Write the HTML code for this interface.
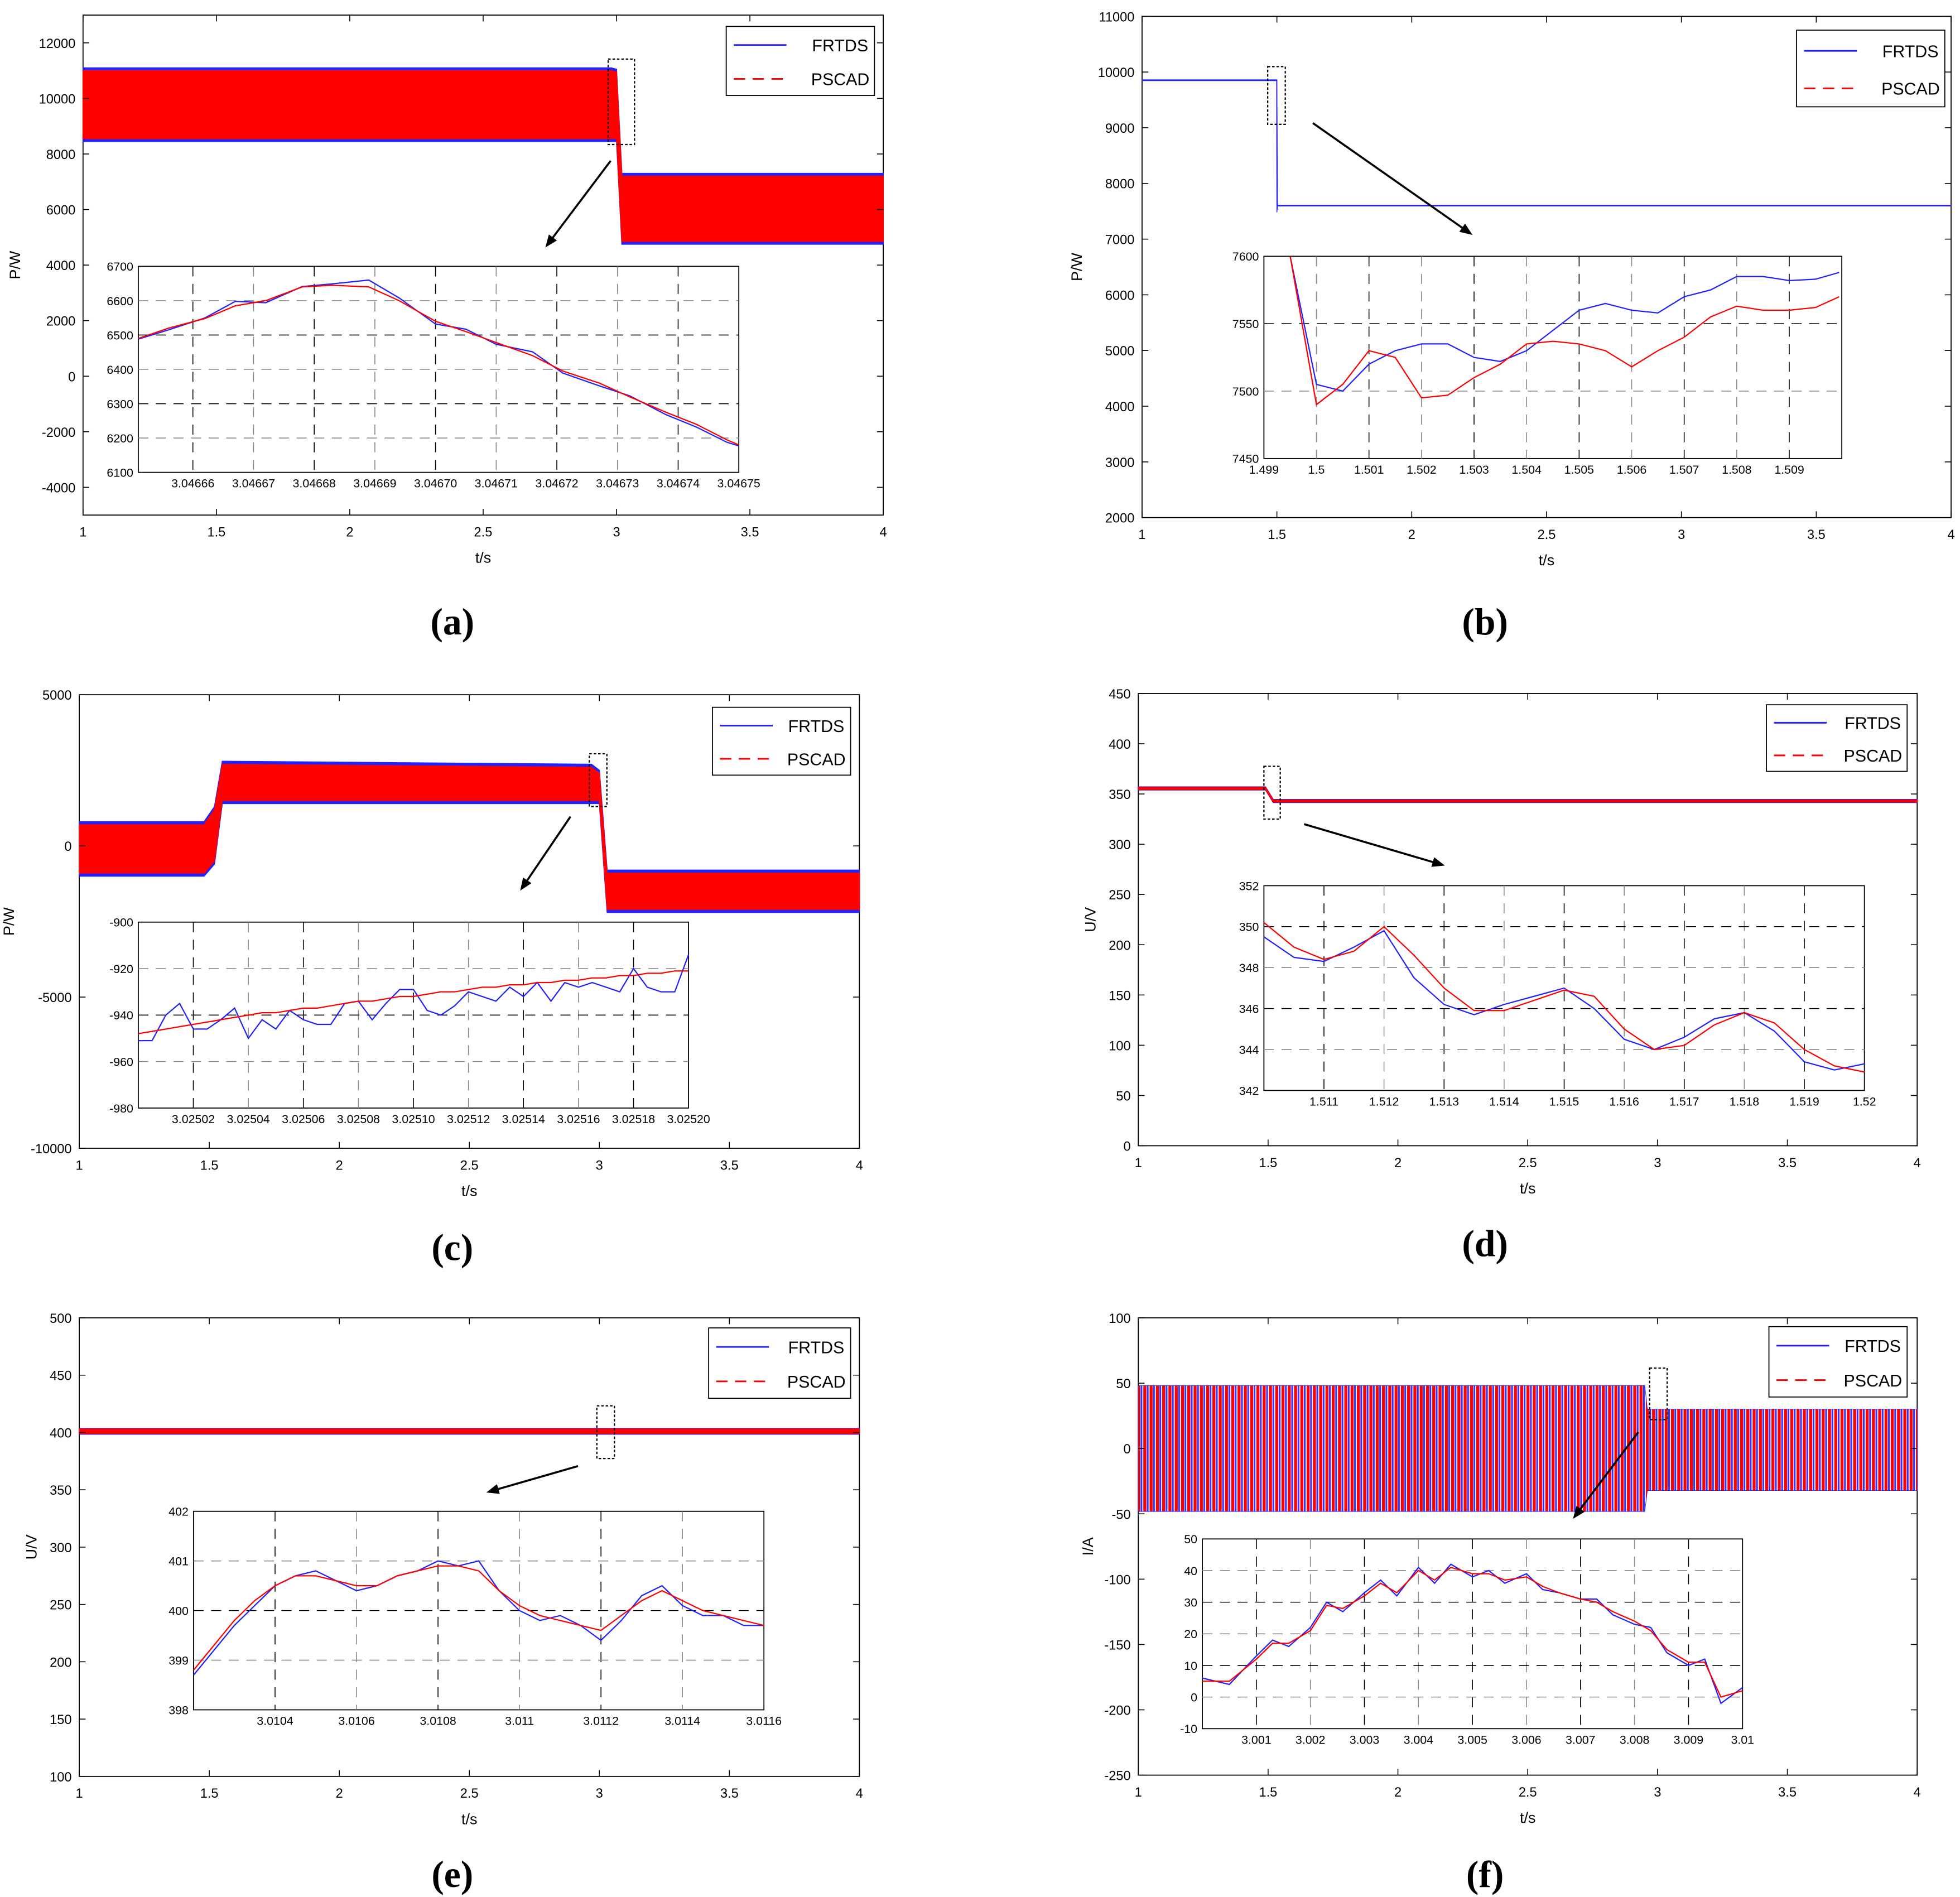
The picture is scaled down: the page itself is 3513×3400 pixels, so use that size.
<!DOCTYPE html>
<html><head><meta charset="utf-8"><style>
html,body{margin:0;padding:0;background:#fff}
svg{display:block}
text{font-family:"Liberation Sans",sans-serif}
</style></head><body>
<svg id="root" xmlns="http://www.w3.org/2000/svg" width="3513" height="3400" viewBox="0 0 1560 1510">
<defs>
<pattern id="stripes" width="5" height="10" patternUnits="userSpaceOnUse">
<rect width="5" height="10" fill="#fff"/>
<rect x="0" width="2.4" height="10" fill="#f00"/>
<rect x="2.8" width="1.4" height="10" fill="#33f"/>
</pattern>
</defs>
</svg>
<script>
// ---------- Panel (a) ----------
const aEnvT=[1,2.98,3.0,3.02,4];
const aBlueHi=[11100,11100,11050,7300,7300];
const aBlueLo=[8450,8450,8450,4750,4750];
const aRedHi=[11000,11000,10950,7200,7200];
const aRedLo=[8550,8550,8550,4850,4850];
const aInX=[3.046651,3.046656,3.046662,3.046667,3.046672,3.046678,3.046683,3.046689,3.046694,3.0467,3.046705,3.04671,3.046716,3.046721,3.046727,3.046732,3.046738,3.046743,3.046748,3.04675];
const aInBlue=[6488,6515,6550,6598,6594,6641,6649,6660,6608,6532,6517,6473,6451,6389,6352,6323,6268,6232,6188,6177];
const aInRed=[6490,6520,6548,6585,6600,6640,6645,6640,6600,6540,6510,6478,6440,6395,6360,6320,6275,6240,6195,6180];
const aYT=[-4000,-2000,0,2000,4000,6000,8000,10000,12000];
const aInXT=[3.04666,3.04667,3.04668,3.04669,3.0467,3.04671,3.04672,3.04673,3.04674,3.04675];
const aInXL=["3.04666","3.04667","3.04668","3.04669","3.04670","3.04671","3.04672","3.04673","3.04674","3.04675"];
const aInYT=[6100,6200,6300,6400,6500,6600,6700];
// ---------- Panel (b) ----------
const bEnvT=[1,1.499,1.5,1.502,4];
const bBlueHi=[9860,9860,9860,7610,7610];
const bBlueLo=[9845,9845,7480,7595,7595];
const bRedHi=[9858,9858,9858,7608,7608];
const bRedLo=[9847,9847,7490,7597,7597];
const bInX=[1.4995,1.5,1.5005,1.501,1.5015,1.502,1.5025,1.503,1.5035,1.504,1.5045,1.505,1.5055,1.506,1.5065,1.507,1.5075,1.508,1.5085,1.509,1.5095,1.50995];
const bInBlue=[7600,7505,7500,7520,7530,7535,7535,7525,7522,7530,7545,7560,7565,7560,7558,7570,7575,7585,7585,7582,7583,7588];
const bInRed=[7600,7490,7505,7530,7525,7495,7497,7510,7520,7535,7537,7535,7530,7518,7530,7540,7555,7563,7560,7560,7562,7570];
const bYT=[2000,3000,4000,5000,6000,7000,8000,9000,10000,11000];
const bInXT=[1.499,1.5,1.501,1.502,1.503,1.504,1.505,1.506,1.507,1.508,1.509];
const bInXL=["1.499","1.5","1.501","1.502","1.503","1.504","1.505","1.506","1.507","1.508","1.509"];
const bInYT=[7450,7500,7550,7600];
// ---------- Panel (c) ----------
const cEnvT=[1,1.48,1.52,1.55,2.97,3.0,3.03,4];
const cBlueHi=[800,800,1300,2800,2700,2500,-800,-800];
const cBlueLo=[-1000,-1000,-600,1400,1400,1400,-2200,-2200];
const cRedHi=[700,700,1200,2700,2600,2400,-900,-900];
const cRedLo=[-900,-900,-500,1500,1500,1500,-2100,-2100];
const cInX=[3.025,3.025005,3.02501,3.025015,3.02502,3.025025,3.02503,3.025035,3.02504,3.025045,3.02505,3.025055,3.02506,3.025065,3.02507,3.025075,3.02508,3.025085,3.02509,3.025095,3.0251,3.025105,3.02511,3.025115,3.02512,3.025125,3.02513,3.025135,3.02514,3.025145,3.02515,3.025155,3.02516,3.025165,3.02517,3.025175,3.02518,3.025185,3.02519,3.025195,3.0252];
const cInBlue=[-951,-951,-940,-935,-946,-946,-942,-937,-950,-942,-946,-938,-942,-944,-944,-935,-934,-942,-935,-929,-929,-938,-940,-936,-930,-932,-934,-928,-932,-926,-934,-926,-928,-926,-928,-930,-920,-928,-930,-930,-914];
const cInRed=[-948,-947,-946,-945,-944,-943,-942,-941,-940,-939,-939,-938,-937,-937,-936,-935,-934,-934,-933,-932,-932,-931,-930,-930,-929,-928,-928,-927,-927,-926,-926,-925,-925,-924,-924,-923,-923,-922,-922,-921,-921];
const cYT=[-10000,-5000,0,5000];
const cInXT=[3.02502,3.02504,3.02506,3.02508,3.0251,3.02512,3.02514,3.02516,3.02518,3.0252];
const cInXL=["3.02502","3.02504","3.02506","3.02508","3.02510","3.02512","3.02514","3.02516","3.02518","3.02520"];
const cInYT=[-980,-960,-940,-920,-900];
// ---------- Panel (d) ----------
const dEnvT=[1,1.49,1.52,4];
const dBlueHi=[357,357,344.5,344.5];
const dBlueLo=[354,354,341.5,341.5];
const dRedHi=[356.5,356.5,344,344];
const dRedLo=[354.5,354.5,342,342];
const dInX=[1.51,1.5105,1.511,1.5115,1.512,1.5125,1.513,1.5135,1.514,1.5145,1.515,1.5155,1.516,1.5165,1.517,1.5175,1.518,1.5185,1.519,1.5195,1.52];
const dInBlue=[349.5,348.5,348.3,349,349.8,347.5,346.2,345.7,346.2,346.6,347,346,344.5,344,344.6,345.5,345.8,344.9,343.4,343,343.3];
const dInRed=[350.2,349,348.4,348.8,350,348.6,347,345.9,345.9,346.4,346.9,346.6,345,344,344.2,345.2,345.8,345.3,344,343.2,342.9];
const dYT=[0,50,100,150,200,250,300,350,400,450];
const dInXT=[1.511,1.512,1.513,1.514,1.515,1.516,1.517,1.518,1.519,1.52];
const dInXL=["1.511","1.512","1.513","1.514","1.515","1.516","1.517","1.518","1.519","1.52"];
const dInYT=[342,344,346,348,350,352];
// ---------- Panel (e) ----------
const eEnvT=[1,4];
const eBlueHi=[403.5,403.5];
const eBlueLo=[398.5,398.5];
const eRedHi=[403,403];
const eRedLo=[399,399];
const eInX=[3.0102,3.01025,3.0103,3.01035,3.0104,3.01045,3.0105,3.01055,3.0106,3.01065,3.0107,3.01075,3.0108,3.01085,3.0109,3.01095,3.011,3.01105,3.0111,3.01115,3.0112,3.01125,3.0113,3.01135,3.0114,3.01145,3.0115,3.01155,3.0116];
const eInBlue=[398.7,399.2,399.7,400.1,400.5,400.7,400.8,400.6,400.4,400.5,400.7,400.8,401,400.9,401,400.4,400,399.8,399.9,399.7,399.4,399.8,400.3,400.5,400.1,399.9,399.9,399.7,399.7];
const eInRed=[398.8,399.3,399.8,400.2,400.5,400.7,400.7,400.6,400.5,400.5,400.7,400.8,400.9,400.9,400.8,400.4,400.1,399.9,399.8,399.7,399.6,399.9,400.2,400.4,400.2,400,399.9,399.8,399.7];
const eYT=[100,150,200,250,300,350,400,450,500];
const eInXT=[3.0104,3.0106,3.0108,3.011,3.0112,3.0114,3.0116];
const eInXL=["3.0104","3.0106","3.0108","3.011","3.0112","3.0114","3.0116"];
const eInYT=[398,399,400,401,402];
// ---------- Panel (f) ----------
const fEnvT=[1,2.95,2.96,4];
const fBlueHi=[48,48,30,30];
const fBlueLo=[-48,-48,-32,-32];
const fRedHi=[48,48,30,30];
const fRedLo=[-48,-48,-32,-32];
const fInX=[3.0,3.0005,3.001,3.0013,3.0016,3.002,3.0023,3.0026,3.003,3.0033,3.0036,3.004,3.0043,3.0046,3.005,3.0053,3.0056,3.006,3.0063,3.0066,3.007,3.0073,3.0076,3.008,3.0083,3.0086,3.009,3.0093,3.0096,3.01];
const fInBlue=[6,4,13,18,16,22,30,27,33,37,32,41,36,42,38,40,36,39,34,33,31,31,26,23,22,14,10,12,-2,3];
const fInRed=[5,5,12,17,17,21,29,28,32,36,33,40,37,41,39,39,37,38,35,33,31,30,27,24,21,15,11,11,0,2];
const fYT=[-250,-200,-150,-100,-50,0,50,100];
const fInXT=[3.001,3.002,3.003,3.004,3.005,3.006,3.007,3.008,3.009,3.01];
const fInXL=["3.001","3.002","3.003","3.004","3.005","3.006","3.007","3.008","3.009","3.01"];
const fInYT=[-10,0,10,20,30,40,50];
const mainXT=[1,1.5,2,2.5,3,3.5,4];
const mainXL=["1","1.5","2","2.5","3","3.5","4"];

const NS="http://www.w3.org/2000/svg";
const root=document.getElementById('root');
function mk(tag,attrs,parent){const el=document.createElementNS(NS,tag);for(const k in attrs)el.setAttribute(k,attrs[k]);parent.appendChild(el);return el;}
function lin(d0,d1,r0,r1){return v=>r0+(v-d0)/(d1-d0)*(r1-r0);}

function panel(p){
  const g=mk('g',{},root);
  
  
  const sx=lin(1,4,p.x0,p.x1), sy=lin(p.ymin,p.ymax,p.y1,p.y0);
  const fr=mk('rect',{x:p.x0,y:p.y0,width:p.x1-p.x0,height:p.y1-p.y0,fill:'#fff',stroke:'#000','stroke-width':0.8},g);
  
  
  function env(T,H,L,fill,stroke,sw,name){
    let pts=T.map((t,i)=>sx(t)+','+sy(H[i]));
    for(let i=T.length-1;i>=0;i--)pts.push(sx(T[i])+','+sy(L[i]));
    const pg=mk('polygon',{points:pts.join(' '),fill:fill,stroke:stroke,'stroke-width':sw},g);
    
    
  }
  if(p.thinBlueTop){
    env(p.T,p.RH,p.RL,'#f00','#f00',0.6,'pscad-series');
    env(p.T,p.BH,p.BL,'#22f','#22f',0.6,'frtds-series');
  } else {
    env(p.T,p.BH,p.BL,'#22f','#22f',0.8,'frtds-series');
    env(p.T,p.RH,p.RL,p.stripes?'url(#stripes)':'#f00',p.stripes?'none':'#f00',0.8,'pscad-series');
  }
  const xt=mk('g',{},g);
  
  
  mainXT.forEach((v,i)=>{const x=sx(v);
    mk('line',{x1:x,x2:x,y1:p.y1,y2:p.y1-5,stroke:'#000','stroke-width':0.7},xt);
    mk('line',{x1:x,x2:x,y1:p.y0,y2:p.y0+5,stroke:'#000','stroke-width':0.7},xt);
    const t=mk('text',{x:x,y:p.y1+17,'font-size':10.5,'text-anchor':'middle'},xt);t.textContent=mainXL[i];
    
    
  });
  const yt=mk('g',{},g);
  
  
  p.YT.forEach(v=>{const y=sy(v);
    mk('line',{x1:p.x0,x2:p.x0+5,y1:y,y2:y,stroke:'#000','stroke-width':0.7},yt);
    mk('line',{x1:p.x1,x2:p.x1-5,y1:y,y2:y,stroke:'#000','stroke-width':0.7},yt);
    const t=mk('text',{x:p.x0-6,y:y+4,'font-size':10.5,'text-anchor':'end'},yt);t.textContent=String(v);
    
    
  });
  const xl=mk('text',{x:(p.x0+p.x1)/2,y:p.y1+38,'font-size':12,'text-anchor':'middle'},g);xl.textContent='t/s';
  
  
  const ly=(p.y0+p.y1)/2, lx=p.x0-p.ylabOff;
  const yl=mk('text',{x:lx,y:ly,'font-size':12,'text-anchor':'middle',transform:'rotate(-90 '+lx+' '+ly+')'},g);yl.textContent=p.ylab;
  
  
  const zr=mk('rect',{x:p.zr[0],y:p.zr[1],width:p.zr[2]-p.zr[0],height:p.zr[3]-p.zr[1],fill:'none',stroke:'#000','stroke-width':1,'stroke-dasharray':'2,1.5'},g);
  
  
  const [ax1,ay1,ax2,ay2]=p.ar;
  const ang=Math.atan2(ay2-ay1,ax2-ax1);
  const ar=mk('g',{},g);
  
  
  mk('line',{x1:ax1,y1:ay1,x2:ax2-6*Math.cos(ang),y2:ay2-6*Math.sin(ang),stroke:'#000','stroke-width':1.6},ar);
  const hx=ax2,hy=ay2,L=10,W=4;
  const bx=hx-L*Math.cos(ang),by=hy-L*Math.sin(ang);
  mk('polygon',{points:hx+','+hy+' '+(bx-W*Math.sin(ang))+','+(by+W*Math.cos(ang))+' '+(bx+W*Math.sin(ang))+','+(by-W*Math.cos(ang)),fill:'#000'},ar);
  const [lx0,ly0,lx1,ly1]=p.lg;
  const lg=mk('g',{},g);
  
  
  mk('rect',{x:lx0,y:ly0,width:lx1-lx0,height:ly1-ly0,fill:'#fff',stroke:'#000','stroke-width':0.8},lg);
  const r1=ly0+(ly1-ly0)*0.27, r2=ly0+(ly1-ly0)*0.76;
  const e1=mk('g',{},lg);
  
  
  mk('line',{x1:lx0+6,x2:lx0+48,y1:r1,y2:r1,stroke:'#22f','stroke-width':1.3},e1);
  const t1=mk('text',{x:lx1-5,y:r1+5,'font-size':13.5,'text-anchor':'end'},e1);t1.textContent='FRTDS';
  const e2=mk('g',{},lg);
  
  
  mk('line',{x1:lx0+6,x2:lx0+48,y1:r2,y2:r2,stroke:'#f00','stroke-width':1.3,'stroke-dasharray':'9,6'},e2);
  const t2=mk('text',{x:lx1-4,y:r2+5,'font-size':13.5,'text-anchor':'end'},e2);t2.textContent='PSCAD';
  const I=p.in;
  const ig=mk('g',{},g);
  
  
  const ix=lin(I.xmin,I.xmax,I.x0,I.x1), iy=lin(I.ymin,I.ymax,I.y1,I.y0);
  mk('rect',{x:I.x0,y:I.y0,width:I.x1-I.x0,height:I.y1-I.y0,fill:'#fff',stroke:'#000','stroke-width':0.8},ig);
  I.XT.forEach((v,i)=>{const x=ix(v);
    if(x>I.x0+1&&x<I.x1-1) mk('line',{x1:x,x2:x,y1:I.y0,y2:I.y1,stroke:i%2?'#888':'#000','stroke-width':0.7,'stroke-dasharray':'8,6'},ig);
    const t=mk('text',{x:x,y:I.y1+12,'font-size':9.5,'text-anchor':'middle'},ig);t.textContent=I.XL[i];
    
    
  });
  I.YT.forEach((v,i)=>{const y=iy(v);
    if(y>I.y0+1&&y<I.y1-1) mk('line',{x1:I.x0,x2:I.x1,y1:y,y2:y,stroke:i%2?'#888':'#000','stroke-width':0.7,'stroke-dasharray':'8,6'},ig);
    const t=mk('text',{x:I.x0-4,y:y+3.5,'font-size':9.5,'text-anchor':'end'},ig);t.textContent=String(v);
    
    
  });
  const pl=(Y,c,name)=>{const e=mk('polyline',{points:I.X.map((x,i)=>ix(x)+','+iy(Y[i])).join(' '),fill:'none',stroke:c,'stroke-width':1},ig);
    
    };
  pl(I.B,'#22f','inset-frtds-line');
  pl(I.R,'#f00','inset-pscad-line');
  const cp=mk('text',{x:p.cap[0],y:p.cap[1],'font-size':30,'font-weight':'bold','text-anchor':'middle',style:'font-family:"Liberation Serif",serif'},g);
  cp.textContent='('+p.id+')';
  
  
}

panel({id:'a',x0:66,x1:703,y0:12,y1:410,ymin:-5000,ymax:13000,YT:aYT,ylab:'P/W',ylabOff:50,
  T:aEnvT,BH:aBlueHi,BL:aBlueLo,RH:aRedHi,RL:aRedLo,zr:[484,47,505,115],ar:[486,128,434,197],lg:[578,21,696,76],cap:[360,505],
  in:{x0:110,x1:588,y0:212,y1:376,xmin:3.046651,xmax:3.04675,ymin:6100,ymax:6700,X:aInX,B:aInBlue,R:aInRed,XT:aInXT,XL:aInXL,YT:aInYT}});
panel({id:'b',x0:909,x1:1553,y0:13,y1:412,ymin:2000,ymax:11000,YT:bYT,ylab:'P/W',ylabOff:48,thinBlueTop:true,
  T:bEnvT,BH:bBlueHi,BL:bBlueLo,RH:bRedHi,RL:bRedLo,zr:[1009,53,1023,99],ar:[1045,98,1172,187],lg:[1430,24,1548,85],cap:[1182,505],
  in:{x0:1006,x1:1466,y0:204,y1:365,xmin:1.499,xmax:1.51,ymin:7450,ymax:7600,X:bInX,B:bInBlue,R:bInRed,XT:bInXT,XL:bInXL,YT:bInYT}});
panel({id:'c',x0:63,x1:684,y0:553,y1:914,ymin:-10000,ymax:5000,YT:cYT,ylab:'P/W',ylabOff:52,
  T:cEnvT,BH:cBlueHi,BL:cBlueLo,RH:cRedHi,RL:cRedLo,zr:[469,600,483,642],ar:[454,650,414,709],lg:[567,563,677,617],cap:[360,1003],
  in:{x0:110,x1:548,y0:734,y1:882,xmin:3.025,xmax:3.0252,ymin:-980,ymax:-900,X:cInX,B:cInBlue,R:cInRed,XT:cInXT,XL:cInXL,YT:cInYT}});
panel({id:'d',x0:906,x1:1526,y0:552,y1:912,ymin:0,ymax:450,YT:dYT,ylab:'U/V',ylabOff:34,
  T:dEnvT,BH:dBlueHi,BL:dBlueLo,RH:dRedHi,RL:dRedLo,zr:[1006,610,1019,652],ar:[1038,656,1150,689],lg:[1406,561,1518,614],cap:[1182,1000],
  in:{x0:1006,x1:1484,y0:705,y1:868,xmin:1.51,xmax:1.52,ymin:342,ymax:352,X:dInX,B:dInBlue,R:dInRed,XT:dInXT,XL:dInXL,YT:dInYT}});
panel({id:'e',x0:63,x1:684,y0:1049,y1:1414,ymin:100,ymax:500,YT:eYT,ylab:'U/V',ylabOff:34,
  T:eEnvT,BH:eBlueHi,BL:eBlueLo,RH:eRedHi,RL:eRedLo,zr:[475,1119,489,1161],ar:[460,1167,387,1188],lg:[564,1057,677,1113],cap:[360,1502],
  in:{x0:154,x1:608,y0:1203,y1:1361,xmin:3.0102,xmax:3.0116,ymin:398,ymax:402,X:eInX,B:eInBlue,R:eInRed,XT:eInXT,XL:eInXL,YT:eInYT}});
panel({id:'f',x0:906,x1:1526,y0:1049,y1:1413,ymin:-250,ymax:100,YT:fYT,ylab:'I/A',ylabOff:36,stripes:true,
  T:fEnvT,BH:fBlueHi,BL:fBlueLo,RH:fRedHi,RL:fRedLo,zr:[1313,1089,1327,1130],ar:[1304,1140,1252,1209],lg:[1408,1056,1518,1112],cap:[1182,1502],
  in:{x0:957,x1:1387,y0:1225,y1:1376,xmin:3.0,xmax:3.01,ymin:-10,ymax:50,X:fInX,B:fInBlue,R:fInRed,XT:fInXT,XL:fInXL,YT:fInYT}});
</script>
</body></html>
